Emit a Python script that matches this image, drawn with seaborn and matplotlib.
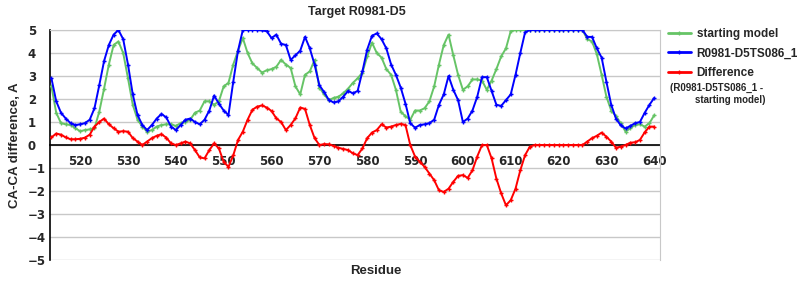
import numpy as np
import pandas as pd
import matplotlib
matplotlib.use("Agg")
import matplotlib.pyplot as plt
import seaborn as sns

residues = list(range(514, 641))

model = [2.9, 1.9, 1.4, 1.15, 0.95, 0.87, 0.9, 0.95, 1.1, 1.6,
         2.6, 3.65, 4.35, 4.8, 5.0, 4.6, 3.5, 2.2, 1.3, 0.87,
         0.65, 0.87, 1.15, 1.35, 1.2, 0.8, 0.65, 0.87, 1.1, 1.15,
         1.0, 0.9, 1.1, 1.5, 2.15, 1.8, 1.5, 1.3, 2.75, 4.1,
         5.0, 5.0, 5.0, 5.0, 4.98, 4.95, 4.65, 4.8, 4.4, 4.35,
         3.7, 3.9, 4.1, 4.7, 4.2, 3.5, 2.6, 2.3, 1.95, 1.85,
         1.9, 2.1, 2.35, 2.25, 2.35, 3.2, 4.15, 4.75, 4.85, 4.6,
         4.2, 3.5, 3.05, 2.5, 1.8, 0.95, 0.75, 0.87, 0.9, 0.95,
         1.1, 1.75, 2.2, 3.0, 2.4, 1.95, 1.0, 1.15, 1.5, 2.1,
         2.95, 2.95, 2.35, 1.75, 1.7, 1.95, 2.2, 3.05, 4.0, 4.9,
         5.0, 5.0, 5.0, 5.0, 5.0, 5.0, 5.0, 5.0, 5.0, 5.0, 5.0, 5.0,
         4.7, 4.7, 4.2, 3.8, 2.75, 1.75, 1.15, 0.85, 0.72, 0.83,
         0.95, 1.0, 1.4, 1.75, 2.05]

starting = [2.55, 1.4, 0.95, 0.9, 0.87, 0.73, 0.6, 0.65, 0.68, 0.73,
            1.45, 2.45, 3.5, 4.35, 4.5, 4.0, 2.9, 1.75, 1.1, 0.8,
            0.58, 0.65, 0.8, 0.87, 0.9, 0.9, 0.83, 0.95, 1.0, 1.1,
            1.4, 1.5, 1.9, 1.9, 1.75, 1.9, 2.55, 2.7, 3.5, 4.1,
            4.65, 4.0, 3.55, 3.35, 3.15, 3.25, 3.3, 3.4, 3.7, 3.5,
            3.35, 2.55, 2.2, 3.05, 3.2, 3.7, 2.5, 2.2, 1.95, 2.05,
            2.1, 2.25, 2.45, 2.7, 2.9, 3.15, 3.85, 4.45, 4.0, 3.8,
            3.3, 3.05, 2.4, 1.45, 1.25, 1.1, 1.5, 1.5, 1.6, 1.9,
            2.55, 3.5, 4.35, 4.8, 3.9, 3.05, 2.4, 2.55, 2.85, 2.85,
            2.8, 2.4, 2.8, 3.3, 3.85, 4.2, 4.95,
            5.0, 5.0, 5.0, 5.0, 5.0, 5.0, 5.0, 5.0, 5.0, 5.0, 5.0, 5.0, 5.0, 5.0, 5.0,
            4.6, 4.5, 3.95, 3.05, 2.1, 1.5, 1.25, 0.95, 0.58, 0.73,
            0.87, 0.9, 0.8, 0.95, 1.3]

difference = [0.33, 0.5, 0.45, 0.33, 0.25, 0.25, 0.27, 0.32, 0.45, 0.8,
              1.0, 1.15, 0.9, 0.73, 0.58, 0.6, 0.58, 0.3, 0.15, 0.0,
              0.15, 0.3, 0.4, 0.47, 0.32, 0.07, 0.0, 0.07, 0.15, 0.07,
              -0.22, -0.54, -0.58, -0.22, 0.07, -0.15, -0.73, -0.95, -0.45, 0.22,
              0.58, 1.1, 1.53, 1.67, 1.72, 1.63, 1.48, 1.16, 1.0, 0.65,
              0.87, 1.16, 1.63, 1.57, 0.87, 0.3, 0.0, 0.04, 0.03, -0.04,
              -0.12, -0.17, -0.22, -0.36, -0.44, -0.15, 0.3, 0.54, 0.65, 0.9,
              0.76, 0.8, 0.87, 0.92, 0.87, 0.0, -0.5, -0.73, -0.95, -1.24,
              -1.53, -1.97, -2.04, -1.9, -1.6, -1.34, -1.31, -1.43, -1.1, -0.5,
              0.0, 0.0, -0.58, -1.46, -2.1, -2.62, -2.4, -1.9, -1.1, -0.44,
              -0.07,
              0.0, 0.0, 0.0, 0.0, 0.0, 0.0, 0.0, 0.0, 0.0, 0.0, 0.0,
              0.15, 0.3, 0.4, 0.54, 0.36, 0.15, -0.12, -0.07, 0.0, 0.1,
              0.12, 0.22, 0.55, 0.8, 0.8]

x_ticks = list(range(520, 641, 10))
y_ticks = list(range(-5, 6))
series_names = ["starting model", "R0981-D5TS086_1", "Difference"]
colors = ["#66c466", "#0000ff", "#ff0000"]

sns.set_style("white")
plt.rcParams['font.family'] = ['DejaVu Sans']
LAB = 'Liberation Sans'

fig = plt.figure(figsize=(8, 3), dpi=100)
ax = fig.add_axes([50/800, 40/300, 610/800, 230/300])

for vals, name, col in zip([starting, model, difference], series_names, colors):
    df = pd.DataFrame({"Residue": residues, "value": vals})
    sns.lineplot(data=df, x="Residue", y="value", ax=ax, color=col, label=name,
                 linewidth=1.4, marker="+", markersize=3, markeredgewidth=1,
                 markeredgecolor=col, zorder=3)

ax.set_xlim(513.7, 641.2)
ax.set_ylim(-5, 5)
ax.set_yticks(y_ticks)
ax.set_xticks(x_ticks)
ax.yaxis.grid(True, color="#c8c8c8", linewidth=1)
ax.xaxis.grid(False)
ax.set_axisbelow(True)

ax.spines['bottom'].set_position(('data', 0))
ax.spines['bottom'].set_color('black')
ax.spines['bottom'].set_linewidth(1.2)
ax.spines['bottom'].set_zorder(2)
ax.spines['left'].set_color('black')
ax.spines['left'].set_linewidth(1.2)
ax.spines['top'].set_color('#c8c8c8')
ax.spines['right'].set_color('#c8c8c8')

ax.tick_params(axis='x', length=3, color='#c8c8c8', pad=4, labelsize=8.5)
ax.tick_params(axis='y', length=0, pad=16, labelsize=8.5)
for lab in ax.get_xticklabels() + ax.get_yticklabels():
    lab.set_fontweight('bold')
for lab in ax.get_yticklabels():
    lab.set_horizontalalignment('left')

ax.set_xlabel("")
ax.set_ylabel("")
fig.text(15/800, 1 - 145/300, "CA-CA difference, A", ha='center', va='center',
         rotation=90, fontsize=9.5, fontweight='bold', family=LAB)
fig.text(376/800, 1 - 271/300, "Residue", ha='center', va='center',
         fontsize=9.5, fontweight='bold', family=LAB)
fig.text(357/800, 1 - 12/300, "Target R0981-D5", ha='center', va='center',
         fontsize=9, fontweight='bold', family=LAB)

leg = ax.legend(loc='upper left', bbox_to_anchor=(1.0, 1.045), frameon=False,
                handlelength=1.9, handletextpad=0.5, labelspacing=0.65,
                prop={'weight': 'bold', 'size': 8.5, 'family': LAB}, borderaxespad=0.3)
for line in leg.get_lines():
    line.set_linewidth(2)
fig.text(670/800, 1 - 88/300, "(R0981-D5TS086_1 -", ha='left', va='center',
         fontsize=7, fontweight='bold', family=LAB)
fig.text(695/800, 1 - 100/300, "starting model)", ha='left', va='center',
         fontsize=7, fontweight='bold', family=LAB)

fig.savefig("out.png", dpi=100)
